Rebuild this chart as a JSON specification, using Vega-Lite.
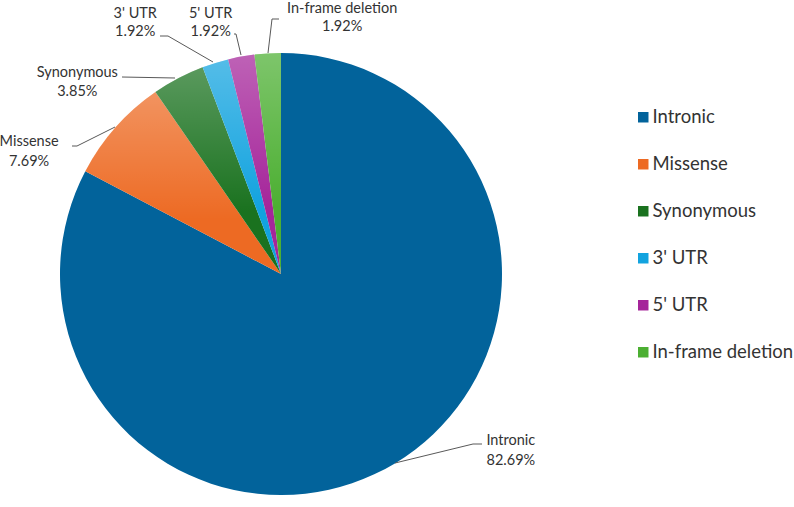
{
  "$schema": "https://vega.github.io/schema/vega-lite/v6.json",
  "width": 562,
  "height": 466,
  "autosize": {"type": "none"},
  "padding": {"left": 0, "top": 41, "right": 232, "bottom": 0},
  "background": "white",
  "config": {"view": {"stroke": null}, "font": "Lato"},
  "data": {
    "values": [
      {"category": "Intronic", "count": 43, "pct": 0.8269, "rank": 0},
      {"category": "Missense", "count": 4, "pct": 0.0769, "rank": 1},
      {"category": "Synonymous", "count": 2, "pct": 0.0385, "rank": 2},
      {"category": "3' UTR", "count": 1, "pct": 0.0192, "rank": 3},
      {"category": "5' UTR", "count": 1, "pct": 0.0192, "rank": 4},
      {"category": "In-frame deletion", "count": 1, "pct": 0.0192, "rank": 5}
    ]
  },
  "encoding": {
    "theta": {"field": "count", "type": "quantitative", "stack": true},
    "order": {"field": "rank", "type": "quantitative"}
  },
  "layer": [
    {
      "mark": {"type": "arc", "outerRadius": 221},
      "encoding": {
        "color": {
          "field": "category",
          "type": "nominal",
          "scale": {
            "domain": ["Intronic", "Missense", "Synonymous", "3' UTR", "5' UTR", "In-frame deletion"],
            "range": ["#02639b", "#ed6a23", "#1a721f", "#12a3df", "#a5259a", "#4caf32"]
          },
          "legend": {
            "title": null,
            "orient": "none",
            "legendX": 634,
            "legendY": 67,
            "symbolType": "square",
            "symbolSize": 110,
            "symbolStrokeWidth": 0,
            "labelFontSize": 18.5,
            "labelFont": "Lato",
            "labelColor": "#333333",
            "labelOffset": 0,
            "rowPadding": 28
          }
        }
      }
    },
    {
      "mark": {
        "type": "arc",
        "outerRadius": 221,
        "fill": {
          "gradient": "linear",
          "x1": 0, "y1": 0, "x2": 0, "y2": 1,
          "stops": [
            {"offset": 0, "color": "rgba(255,255,255,0.28)"},
            {"offset": 0.7, "color": "rgba(255,255,255,0)"}
          ]
        }
      },
      "encoding": {
        "opacity": {"condition": {"test": "datum.rank === 0", "value": 0}, "value": 1}
      }
    },
    {
      "mark": {
        "type": "rule",
        "color": "#595959",
        "strokeWidth": 1
      },
      "encoding": {
        "x": {"value": {"expr": "[395,115,175,213,241,268][datum.rank]"}},
        "y": {"value": {"expr": "[422,86,37,21,14,12][datum.rank]"}},
        "x2": {"value": {"expr": "[473,77,122,168,236,272][datum.rank]"}},
        "y2": {"value": {"expr": "[403,105,36,-5,-7,-22][datum.rank]"}}
      }
    },
    {
      "mark": {
        "type": "rule",
        "color": "#595959",
        "strokeWidth": 1
      },
      "encoding": {
        "x": {"value": {"expr": "[473,77,122,168,236,272][datum.rank]"}},
        "y": {"value": {"expr": "[403,105,36,-5,-7,-22][datum.rank]"}},
        "x2": {"value": {"expr": "[482,72,122,160,234,279][datum.rank]"}},
        "y2": {"value": {"expr": "[403,105,36,-5,-7,-22][datum.rank]"}}
      }
    },
    {
      "mark": {
        "type": "text",
        "radius": 221,
        "fontSize": 14.5,
        "color": "#333333",
        "align": "center",
        "baseline": "middle",
        "dx": {"expr": "[115.5,-86.5,-101,-80,-30.5,74.5][datum.rank]"},
        "dy": {"expr": "[-22,14.5,-5.4,-49,-42.6,-44.5][datum.rank]"}
      },
      "encoding": {"text": {"field": "category"}}
    },
    {
      "mark": {
        "type": "text",
        "radius": 221,
        "fontSize": 14.5,
        "color": "#333333",
        "align": "center",
        "baseline": "middle",
        "dx": {"expr": "[115.5,-86.5,-101,-80,-30.5,74.5][datum.rank]"},
        "dy": {"expr": "[-2,34.5,13.6,-31,-24.6,-26][datum.rank]"}
      },
      "encoding": {"text": {"field": "pct", "format": ".2%"}}
    }
  ]
}
